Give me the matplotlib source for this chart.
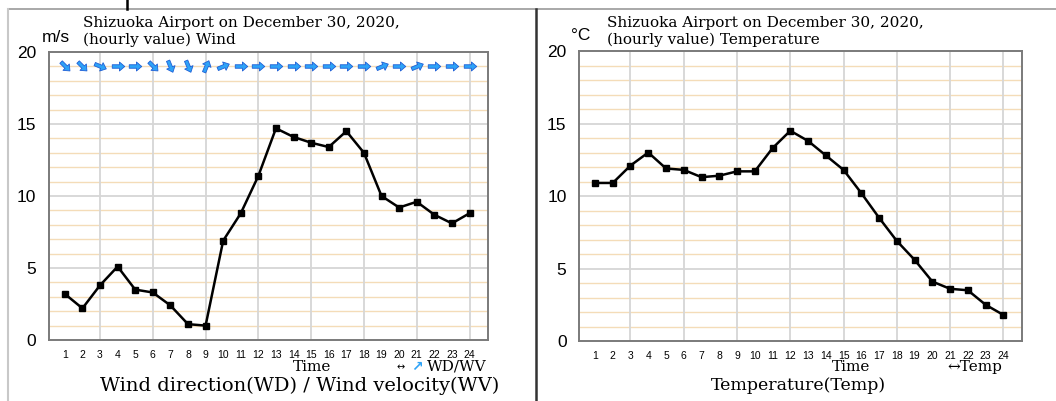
import numpy as np
import matplotlib
matplotlib.use("Agg")
import matplotlib.pyplot as plt
from matplotlib.lines import Line2D
from matplotlib.path import Path
from matplotlib.markers import MarkerStyle
from matplotlib.transforms import Affine2D

hours = list(range(1, 25))
wind_speed = [3.2, 2.2, 3.8, 5.1, 3.5, 3.3, 2.4, 1.1, 1.0, 6.9, 8.8, 11.4,
              14.7, 14.1, 13.7, 13.4, 14.5, 13.0, 10.0, 9.2, 9.6, 8.7, 8.1, 8.8]
# direction the wind comes from (16-point compass)
wind_dir = ["NW", "NW", "WNW", "W", "W", "NW", "NNW", "NNW", "SSW", "WSW",
            "W", "W", "W", "W", "W", "W", "W", "W", "WSW", "W", "WSW", "W", "W", "W"]
temp = [10.9, 10.9, 12.1, 13.0, 11.9, 11.8, 11.3, 11.4, 11.7, 11.7, 13.3, 14.5,
        13.8, 12.8, 11.8, 10.2, 8.5, 6.9, 5.6, 4.1, 3.6, 3.5, 2.5, 1.8]

compass = ["N", "NNE", "NE", "ENE", "E", "ESE", "SE", "SSE",
           "S", "SSW", "SW", "WSW", "W", "WNW", "NW", "NNW"]
bearing = np.array([compass.index(d) * 22.5 for d in wind_dir])
arrow_ang = 270 - bearing  # direction the arrow points, math convention

fig = plt.figure(figsize=(10.56, 4.01), dpi=100)

sans = "Liberation Sans"
serif = "DejaVu Serif"
arrow_blue = "#2ea3f7"

# block arrow pointing to +x
arrow_path = Path([(-1, -0.28), (0.15, -0.28), (0.15, -0.72), (1, 0),
                   (0.15, 0.72), (0.15, 0.28), (-1, 0.28), (-1, -0.28)],
                  [Path.MOVETO] + [Path.LINETO] * 6 + [Path.CLOSEPOLY])


def setup(ax, ymax):
    ax.set_xlim(0.1, 25.05)
    ax.set_ylim(0, ymax)
    ax.set_yticks([0, 5, 10, 15, 20])
    ax.set_xticks(hours)
    ax.set_xticklabels([str(h) for h in hours], fontsize=7.5, family=sans)
    ax.tick_params(axis="x", length=0, pad=7)
    ax.tick_params(axis="y", which="both", length=0, pad=9, labelsize=12.5)
    for lab in ax.get_yticklabels():
        lab.set_family(sans)
    for h in hours:
        if h % 3 == 0:
            ax.axvline(h, color="#d6d6d6", lw=1.3, zorder=1)
    for v in range(1, 20):
        if v % 5 == 0:
            ax.axhline(v, color="#d6d6d6", lw=1.3, zorder=1)
        else:
            ax.axhline(v, color="#f4dcb8", lw=1.0, zorder=0.9)
    for s in ax.spines.values():
        s.set_color("#7a7a7a")
        s.set_linewidth(1.4)


# wind panel
ax1 = fig.add_axes([0.0464, 0.1521, 0.4157, 0.7182])
setup(ax1, 20)
ax1.plot(hours, wind_speed, color="black", lw=1.8, marker="s", ms=4.5, zorder=3)
for h, a in zip(hours, arrow_ang):
    m = MarkerStyle(arrow_path, transform=Affine2D().rotate_deg(a))
    ax1.plot(h, 19, marker=m, ms=9, color=arrow_blue, mec="#1f5fd6",
             mew=0.6, zorder=4, ls="none")

# temperature panel
ax2 = fig.add_axes([0.5483, 0.1496, 0.4195, 0.7232])
setup(ax2, 20)
ax2.plot(hours, temp, color="black", lw=1.8, marker="s", ms=4.5, zorder=3)

# texts
fig.text(83 / 1056, 1 - 23 / 401, "Shizuoka Airport on December 30, 2020,",
         family=serif, fontsize=11, va="center", ha="left")
fig.text(83 / 1056, 1 - 40 / 401, "(hourly value) Wind",
         family=serif, fontsize=11, va="center", ha="left")
fig.text(56 / 1056, 1 - 37 / 401, "m/s", family=sans, fontsize=12.5,
         va="center", ha="center")
fig.text(607 / 1056, 1 - 23 / 401, "Shizuoka Airport on December 30, 2020,",
         family=serif, fontsize=11, va="center", ha="left")
fig.text(607 / 1056, 1 - 40 / 401, "(hourly value) Temperature",
         family=serif, fontsize=11, va="center", ha="left")
fig.text(581 / 1056, 1 - 35 / 401, "°C", family=sans, fontsize=12.5,
         va="center", ha="center")

fig.text(312 / 1056, 1 - 367 / 401, "Time", family=serif, fontsize=11,
         va="center", ha="center")
fig.text(401 / 1056, 1 - 367 / 401, "↔", family="DejaVu Sans", fontsize=7,
         va="center", ha="center")
fig.text(417 / 1056, 1 - 367 / 401, "↗", family="DejaVu Sans", fontsize=10,
         va="center", ha="center", color=arrow_blue, fontweight="bold")
fig.text(457 / 1056, 1 - 367 / 401, "WD/WV", family=serif, fontsize=11,
         va="center", ha="center")
fig.text(300 / 1056, 1 - 386 / 401, "Wind direction(WD) / Wind velocity(WV)",
         family=serif, fontsize=14, va="center", ha="center")

fig.text(851 / 1056, 1 - 367 / 401, "Time", family=serif, fontsize=11,
         va="center", ha="center")
fig.text(975 / 1056, 1 - 367 / 401, "↔Temp", family=serif, fontsize=11,
         va="center", ha="center")
fig.text(798 / 1056, 1 - 386 / 401, "Temperature(Temp)", family=serif,
         fontsize=12.5, va="center", ha="center")

# panel frames
W, H = 1056, 401
fig.add_artist(Line2D([8 / W, 1], [1 - 9 / H] * 2, color="#9a9a9a", lw=1.2))
fig.add_artist(Line2D([8 / W] * 2, [0, 1 - 9 / H], color="#c8c8c8", lw=1.5))
fig.add_artist(Line2D([536 / W] * 2, [0, 1 - 9 / H], color="#333333", lw=1.8))
fig.add_artist(Line2D([127 / W] * 2, [1 - 9 / H, 1], color="black", lw=1.8))

fig.savefig("out.png", dpi=100)
